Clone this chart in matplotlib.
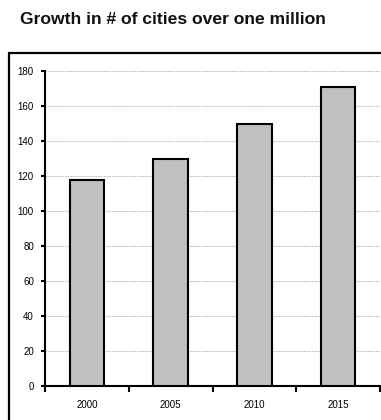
import numpy as np
import matplotlib.pyplot as plt
from matplotlib.patches import Rectangle

years = ["2000", "2005", "2010", "2015"]
cities = [118, 130, 150, 171]
y_ticks = [0, 20, 40, 60, 80, 100, 120, 140, 160, 180]
title = "Growth in # of cities over one million"

plt.rcParams["font.family"] = ["Liberation Sans", "DejaVu Sans"]

fig = plt.figure(figsize=(3.81, 4.2), dpi=100)

# outer frame (runs off the right and bottom edge)
fig.patches.append(Rectangle((9 / 381, -0.05), 1.2, 1 - 53 / 420 + 0.05,
                             transform=fig.transFigure, fill=False,
                             edgecolor="black", linewidth=1.6))

fig.text(20 / 381, 1 - 20 / 420, title, fontsize=12.6, fontweight="bold",
         va="center", ha="left", color="#111111")

ax = fig.add_axes([45 / 381, 1 - 386 / 420, 335 / 381, 315 / 420])
x = np.arange(len(years))
ax.bar(x, cities, width=0.41, color="#c0c0c0", edgecolor="black", linewidth=1.5, zorder=3)

ax.set_xlim(-0.5, len(years) - 0.5)
ax.set_ylim(0, 180)
ax.set_yticks(y_ticks)
ax.set_xticks(x)
ax.set_xticklabels(years)
ax.set_xticks(np.arange(-0.5, len(years)), minor=True)
ax.tick_params(axis="x", which="major", length=0, pad=10, labelsize=7)
ax.tick_params(axis="x", which="minor", length=4, width=1.5, direction="out")
ax.tick_params(axis="y", length=3, width=1.5, labelsize=7, pad=5)

ax.yaxis.grid(True, color="#bdbdbd", linestyle=(0, (1.5, 1)), linewidth=0.8, zorder=0)
for s in ["top", "right"]:
    ax.spines[s].set_visible(False)
for s in ["left", "bottom"]:
    ax.spines[s].set_linewidth(1.5)

fig.savefig("out.png", dpi=100)
